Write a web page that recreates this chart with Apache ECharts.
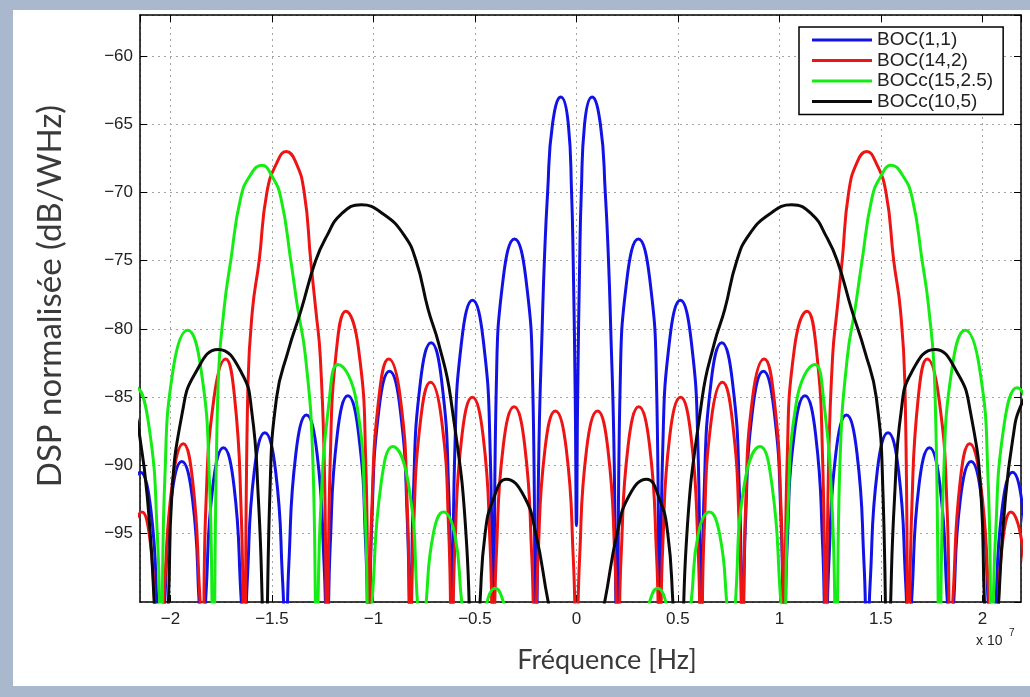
<!DOCTYPE html>
<html>
<head>
<meta charset="utf-8">
<script src="https://cdn.jsdelivr.net/npm/echarts@6/dist/echarts.min.js"></script>
<style>
  html, body { margin: 0; padding: 0; }
  #chart { width: 1030px; height: 697px; }
</style>
</head>
<body>
<div id="chart"></div>
<script>
// frequencies in units of 1e7 Hz, PSD in dB/WHz
// spectra are symmetric, so only the x >= 0 half is read off the plot
const seriesNames = ['BOC(1,1)', 'BOC(14,2)', 'BOCc(15,2.5)', 'BOCc(10,5)']
const seriesColors = ['#1212e6', '#ee1414', '#14ec14', '#0a0a0a']
const xTicks = [-2, -1.5, -1, -0.5, 0, 0.5, 1, 1.5, 2]
const yTicks = [-95, -90, -85, -80, -75, -70, -65, -60]

const boc11Half = [
  [0, -94.4], [0.006, -85], [0.016, -75], [0.024, -70], [0.04, -65], [0.077, -63], [0.118, -65], [0.142, -70], [0.158, -75], [0.169, -80], [0.184, -88], [0.2, -104],
  [0.215, -84.4], [0.25, -76.2], [0.305, -73.4], [0.36, -76.2], [0.395, -84.4], [0.41, -104],
  [0.425, -88.9], [0.46, -80.7], [0.512, -77.9], [0.564, -80.7], [0.599, -88.9], [0.614, -104],
  [0.629, -92], [0.664, -83.8], [0.716, -81], [0.768, -83.8], [0.803, -92], [0.818, -104],
  [0.833, -94.1], [0.868, -85.9], [0.921, -83.1], [0.973, -85.9], [1.008, -94.1], [1.023, -104],
  [1.038, -95.9], [1.073, -87.7], [1.126, -84.9], [1.178, -87.7], [1.213, -95.9], [1.228, -104],
  [1.243, -97.3], [1.278, -89.1], [1.33, -86.3], [1.382, -89.1], [1.417, -97.3], [1.432, -104],
  [1.447, -98.6], [1.482, -90.4], [1.535, -87.6], [1.587, -90.4], [1.622, -98.6], [1.637, -104],
  [1.652, -99.7], [1.687, -91.5], [1.739, -88.7], [1.791, -91.5], [1.826, -99.7], [1.841, -104],
  [1.856, -100.7], [1.891, -92.5], [1.944, -89.7], [1.996, -92.5], [2.031, -100.7], [2.046, -104],
  [2.061, -101.5], [2.096, -93.3], [2.148, -90.5], [2.2, -93.3], [2.235, -101.5], [2.25, -104]
]

const boc142Half = [
  [0, -104],
  [0.015, -97], [0.05, -88.8], [0.104, -86], [0.155, -88.8], [0.19, -97], [0.205, -104],
  [0.22, -96.7], [0.255, -88.5], [0.307, -85.7], [0.36, -88.5], [0.395, -96.7], [0.41, -104],
  [0.425, -96], [0.46, -87.8], [0.513, -85], [0.564, -87.8], [0.599, -96], [0.614, -104],
  [0.629, -94.9], [0.664, -86.7], [0.719, -83.9], [0.768, -86.7], [0.803, -94.9], [0.818, -104],
  [0.833, -93.2], [0.868, -85], [0.925, -82.2], [0.973, -85], [1.008, -93.2], [1.023, -104],
  [1.038, -89.7], [1.073, -81.5], [1.136, -78.7], [1.182, -81.5], [1.213, -89.7], [1.228, -104],
  [1.242, -90], [1.262, -82], [1.284, -78.6], [1.309, -75], [1.341, -70], [1.385, -67.7], [1.43, -67], [1.475, -67.8], [1.525, -70], [1.563, -75], [1.596, -78.6], [1.618, -84], [1.637, -104],
  [1.652, -93.2], [1.684, -85], [1.728, -82.2], [1.785, -85], [1.826, -93.2], [1.841, -104],
  [1.856, -99.4], [1.89, -91.2], [1.937, -88.4], [1.99, -91.2], [2.031, -99.4], [2.046, -104],
  [2.061, -104], [2.095, -96.2], [2.14, -93.4], [2.2, -96.2], [2.235, -104], [2.25, -104]
]

const bocc1525Half = [
  [0, -106], [0.256, -106],
  [0.36, -100], [0.4, -99], [0.44, -100], [0.512, -106],
  [0.565, -100], [0.6, -95], [0.655, -93.4], [0.705, -95], [0.74, -100], [0.767, -106],
  [0.785, -99.6], [0.827, -91.4], [0.905, -88.6], [0.963, -91.4], [1.005, -99.6], [1.023, -104],
  [1.041, -93.6], [1.083, -85.4], [1.175, -82.6], [1.219, -85.4], [1.261, -93.6], [1.279, -104],
  [1.3, -89], [1.335, -82], [1.374, -78.4], [1.407, -75], [1.456, -70.4], [1.5, -68.8], [1.55, -68], [1.605, -68.7], [1.654, -70.4], [1.703, -75], [1.735, -78.4], [1.765, -84], [1.79, -104],
  [1.808, -91.1], [1.85, -82.9], [1.915, -80.1], [1.986, -82.9], [2.028, -91.1], [2.046, -104],
  [2.064, -95.3], [2.106, -87.1], [2.17, -84.3], [2.242, -87.1], [2.284, -95.3], [2.302, -104]
]

const bocc105Half = [
  [0, -110], [0.139, -100], [0.2, -95], [0.26, -92.2], [0.345, -91], [0.41, -92.5], [0.45, -95], [0.475, -100], [0.5115, -110],
  [0.54, -96], [0.62, -85], [0.68, -81], [0.73, -78.6], [0.79, -75], [0.85, -73.1], [0.95, -71.6], [1.06, -70.9], [1.16, -71.6], [1.23, -73.2], [1.285, -75], [1.356, -78.6], [1.42, -81.6], [1.477, -85], [1.51, -92], [1.5345, -110],
  [1.548, -100], [1.567, -92.4], [1.6, -86], [1.65, -83.2], [1.765, -81.5], [1.88, -83.3], [1.94, -86], [1.994, -92.4], [2.01, -100], [2.046, -110],
  [2.08, -100], [2.11, -93], [2.15, -88], [2.19, -85.6], [2.3, -82.8]
]

const halves = [boc11Half, boc142Half, bocc1525Half, bocc105Half]

// mirror the x >= 0 half onto negative frequencies
const fullSpectrum = half =>
  half.slice(1).map(p => [-p[0], p[1]]).reverse().concat(half)

const minus = v => String(v).replace('-', '\u2212')
const inList = (list, v) => list.some(t => Math.abs(t - v) < 1e-6)

const tickFont = { fontFamily: 'Liberation Sans', fontSize: 17, color: '#222' }

const chart = echarts.init(document.getElementById('chart'))

const baseX = {
  type: 'value', min: -2.15, max: 2.19, splitNumber: 9,
  axisLine: { show: true, onZero: false, lineStyle: { color: '#000', width: 1.5 } },
  axisTick: { show: true, inside: true, length: 7, lineStyle: { color: '#000', width: 1 } }
}
const baseY = {
  type: 'value', min: -100, max: -57, splitNumber: 8,
  axisLine: { show: true, onZero: false, lineStyle: { color: '#000', width: 1.5 } },
  axisTick: { show: true, inside: true, length: 7, lineStyle: { color: '#000', width: 1 } }
}

const option = {
  animation: false,
  backgroundColor: '#a9b8cc',
  grid: { left: 140, right: 9, top: 15, bottom: 95, show: false },
  xAxis: [
    {
      ...baseX, position: 'bottom',
      axisLabel: {
        ...tickFont, margin: 9, showMinLabel: false, showMaxLabel: false,
        formatter: v => inList(xTicks, v) ? minus(v) : ''
      },
      splitLine: { show: true, lineStyle: { color: '#a4a4a4', type: [2, 4], width: 1 } }
    },
    { ...baseX, position: 'top', axisLabel: { show: false }, splitLine: { show: false } }
  ],
  yAxis: [
    {
      ...baseY, position: 'left',
      axisLabel: {
        ...tickFont, margin: 7, showMinLabel: false, showMaxLabel: false,
        formatter: v => inList(yTicks, v) ? minus(v) : ''
      },
      splitLine: { show: true, lineStyle: { color: '#a4a4a4', type: [2, 4], width: 1 } }
    },
    { ...baseY, position: 'right', axisLabel: { show: false }, splitLine: { show: false } }
  ],
  legend: {
    orient: 'vertical', left: 799, top: 27,
    padding: [3, 10, 3, 13],
    itemWidth: 60, itemHeight: 3, itemGap: 0.5,
    icon: 'rect',
    backgroundColor: '#fff', borderColor: '#000', borderWidth: 1.5, borderRadius: 0,
    textStyle: { fontFamily: 'Liberation Sans', fontSize: 19, lineHeight: 20, color: '#222' },
    data: seriesNames
  },
  graphic: [
    { type: 'rect', z: -10, silent: true, shape: { x: 13, y: 10, width: 1017, height: 676 }, style: { fill: '#fff' } },
    {
      type: 'text', x: 50, y: 296, rotation: Math.PI / 2,
      style: { text: 'DSP normalisée (dB/WHz)', fontFamily: 'Lato', fontSize: 33, fill: '#3a3a3a', align: 'center', verticalAlign: 'middle' }
    },
    {
      type: 'text', x: 607, y: 660,
      style: { text: 'Fréquence [Hz]', fontFamily: 'Lato', fontSize: 27, fill: '#3a3a3a', align: 'center', verticalAlign: 'middle' }
    },
    {
      type: 'text', x: 976, y: 641,
      style: { text: 'x 10', fontFamily: 'Liberation Sans', fontSize: 14, fill: '#222', align: 'left', verticalAlign: 'middle' }
    },
    {
      type: 'text', x: 1009, y: 633,
      style: { text: '7', fontFamily: 'Liberation Sans', fontSize: 10, fill: '#222', align: 'left', verticalAlign: 'middle' }
    }
  ],
  series: halves.map((half, i) => ({
    name: seriesNames[i],
    type: 'line',
    data: fullSpectrum(half),
    showSymbol: false,
    symbol: 'none',
    smooth: 0.5,
    clip: true,
    color: seriesColors[i],
    lineStyle: { color: seriesColors[i], width: 3 },
    z: 2 + i
  }))
}

chart.setOption(option)
</script>
</body>
</html>
